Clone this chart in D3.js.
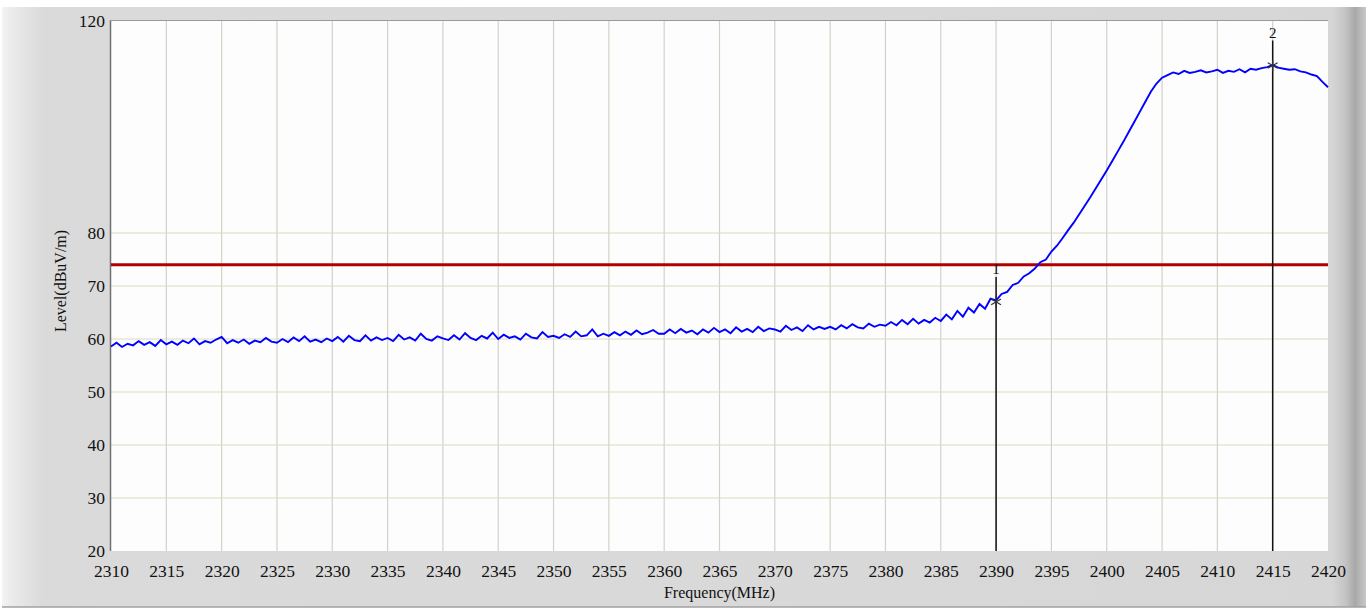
<!DOCTYPE html>
<html><head><meta charset="utf-8">
<script src="https://cdn.jsdelivr.net/npm/d3@7"></script>
<style>
html,body{margin:0;padding:0;background:#fff;}
svg{display:block;}
</style></head>
<body>
<svg id="c" width="1370" height="610"></svg>
<script>
// ---- data ----
const freqStart = 2310, freqStep = 0.5;
const levels = [
58.6,59.3,58.5,59.1,58.8,59.6,58.9,59.4,58.7,59.8,
59.0,59.5,58.9,59.7,59.2,60.1,59.0,59.6,59.3,59.9,
60.4,59.2,59.8,59.3,59.9,59.1,59.7,59.4,60.2,59.5,
59.3,60.0,59.4,60.3,59.6,60.5,59.5,59.9,59.4,60.1,
59.6,60.4,59.5,60.6,59.8,59.6,60.7,59.7,60.3,59.8,
60.2,59.6,60.8,59.9,60.3,59.7,61.0,60.0,59.7,60.5,
60.1,59.8,60.7,59.9,61.1,60.2,59.8,60.6,60.1,61.2,
60.0,60.8,60.2,60.5,59.9,61.0,60.3,60.1,61.3,60.4,
60.6,60.2,60.9,60.4,61.4,60.5,60.7,61.8,60.5,61.0,
60.6,61.3,60.7,61.4,60.8,61.6,60.9,61.2,61.7,61.0,
61.0,61.8,61.1,61.9,61.2,61.6,60.9,61.8,61.2,62.1,
61.3,61.8,61.1,62.2,61.4,61.9,61.3,62.3,61.5,62.0,
61.8,61.4,62.5,61.7,62.2,61.5,62.6,61.8,62.3,61.9,
62.3,61.8,62.6,62.0,62.8,62.2,62.0,62.9,62.3,62.7,
62.5,63.2,62.6,63.6,62.8,63.8,62.9,63.6,63.1,64.0,
63.4,64.6,63.7,65.3,64.2,65.9,65.0,66.6,65.7,67.6,
67.3,68.5,68.9,70.2,70.6,71.8,72.4,73.3,74.5,75.0,
76.5,77.6,79.0,80.5,81.9,83.5,85.1,86.7,88.4,90.1,
91.8,93.6,95.4,97.2,99.1,101.0,102.9,104.8,106.7,108.2,
109.3,109.8,110.3,110.0,110.6,110.2,110.4,110.7,110.3,110.5,
110.8,110.2,110.6,110.4,110.9,110.3,111.0,110.8,111.1,111.3,
111.7,111.2,111.0,110.8,110.9,110.5,110.3,109.9,109.6,108.5,
107.5
];
const xTicks = [2310,2315,2320,2325,2330,2335,2340,2345,2350,2355,2360,2365,2370,2375,2380,2385,2390,2395,2400,2405,2410,2415,2420];
const yTicks = [20,30,40,50,60,70,80,120];
const yGrid = [30,40,50,60,70,80];
const limitLevel = 74;
const markerNames = ["1","2"];
const markerFreqs = [2390, 2415];
const markerLevels = [67.0, 111.6];
const xTitle = "Frequency(MHz)";
const yTitle = "Level(dBuV/m)";

// ---- drawing ----
const svg = d3.select("#c");
const L = 111, R = 1328, T = 21, B = 551;
const x = d3.scaleLinear([2310, 2420], [L, R]);
const y = d3.scaleLinear([20, 120], [B, T]);

const defs = svg.append("defs");
const gh = defs.append("linearGradient").attr("id","gh").attr("x1","0").attr("x2","1").attr("y1","0").attr("y2","0");
[[0,"#f4f4f4"],[0.006,"#ececec"],[0.03,"#dadada"],[0.5,"#d9d9d9"],[0.975,"#d6d6d6"],[0.985,"#c4c4c4"],[0.992,"#a8a8a8"],[1,"#c8c8c8"]]
  .forEach(([o,c]) => gh.append("stop").attr("offset",o).attr("stop-color",c));

svg.append("rect").attr("x",2).attr("y",7).attr("width",1364).attr("height",600).attr("fill","url(#gh)");
svg.append("line").attr("x1",2).attr("x2",1366).attr("y1",607).attr("y2",607).attr("stroke","#a0a0a0").attr("stroke-width",1.5);

// plot area
svg.append("rect").attr("x",L).attr("y",T).attr("width",R-L).attr("height",B-T).attr("fill","#fdfdfd");

// grid
svg.append("g").selectAll("line").data(xTicks.slice(1,-1)).join("line")
  .attr("x1",d=>x(d)).attr("x2",d=>x(d)).attr("y1",T).attr("y2",B)
  .attr("stroke","#d2d2c8").attr("stroke-width",1.2);
svg.append("g").selectAll("line").data(yGrid).join("line")
  .attr("x1",L).attr("x2",R).attr("y1",d=>y(d)).attr("y2",d=>y(d))
  .attr("stroke","#dadac0").attr("stroke-width",1.2);

// frame
svg.append("line").attr("x1",L-0.5).attr("x2",L-0.5).attr("y1",T-1).attr("y2",B).attr("stroke","#707070").attr("stroke-width",1.5);
svg.append("line").attr("x1",L-1).attr("x2",R).attr("y1",T-0.5).attr("y2",T-0.5).attr("stroke","#9a9a9a").attr("stroke-width",1.2);

// limit line
svg.append("line").attr("x1",L).attr("x2",R).attr("y1",y(limitLevel)).attr("y2",y(limitLevel))
  .attr("stroke","#b20000").attr("stroke-width",3);

// marker lines
svg.append("g").selectAll("line").data(markerFreqs).join("line")
  .attr("x1",d=>x(d)).attr("x2",d=>x(d))
  .attr("y1",(d,i)=>y(markerLevels[i]) - 25).attr("y2",B)
  .attr("stroke","#111").attr("stroke-width",1.5);

// trace
const pts = levels.map((v,i)=>[freqStart + i*freqStep, v]);
svg.append("path").datum(pts)
  .attr("fill","none").attr("stroke","#0000ff").attr("stroke-width",1.9)
  .attr("stroke-linejoin","miter")
  .attr("d", d3.line().x(d=>x(d[0])).y(d=>y(d[1])));

// markers
svg.append("g").selectAll("path").data(markerFreqs).join("path")
  .attr("transform",(d,i)=>`translate(${x(d)},${y(markerLevels[i])})`)
  .attr("d", d3.symbol(d3.symbolAsterisk, 90))
  .attr("stroke","#333").attr("stroke-width",1.2).attr("fill","none");
svg.append("g").selectAll("text").data(markerNames).join("text")
  .attr("x",(d,i)=>x(markerFreqs[i])).attr("y",(d,i)=>y(markerLevels[i]) - 28)
  .attr("text-anchor","middle").attr("font-family","Liberation Serif").attr("font-size",15).attr("fill","#111")
  .text(d=>d);

// axes
const xa = svg.append("g").attr("transform",`translate(0,${B})`)
  .call(d3.axisBottom(x).tickValues(xTicks).tickSize(0).tickPadding(0).tickFormat(d3.format("d")));
xa.select(".domain").remove();
xa.selectAll("text").attr("y",26).attr("dy",0).attr("font-family","Liberation Serif").attr("font-size",17.5).attr("fill","#111");

const ya = svg.append("g").attr("transform",`translate(${L},0)`)
  .call(d3.axisLeft(y).tickValues(yTicks).tickSize(0).tickPadding(6).tickFormat(d3.format("d")));
ya.select(".domain").remove();
ya.selectAll("text").attr("font-family","Liberation Serif").attr("font-size",17.5).attr("fill","#111");

svg.append("text").attr("x",(L+R)/2).attr("y",598).attr("text-anchor","middle")
  .attr("font-family","Liberation Serif").attr("font-size",16).attr("fill","#111").text(xTitle);
svg.append("text").attr("transform",`translate(66,281) rotate(-90)`).attr("text-anchor","middle")
  .attr("font-family","Liberation Serif").attr("font-size",16).attr("fill","#111").text(yTitle);
</script>
</body></html>
